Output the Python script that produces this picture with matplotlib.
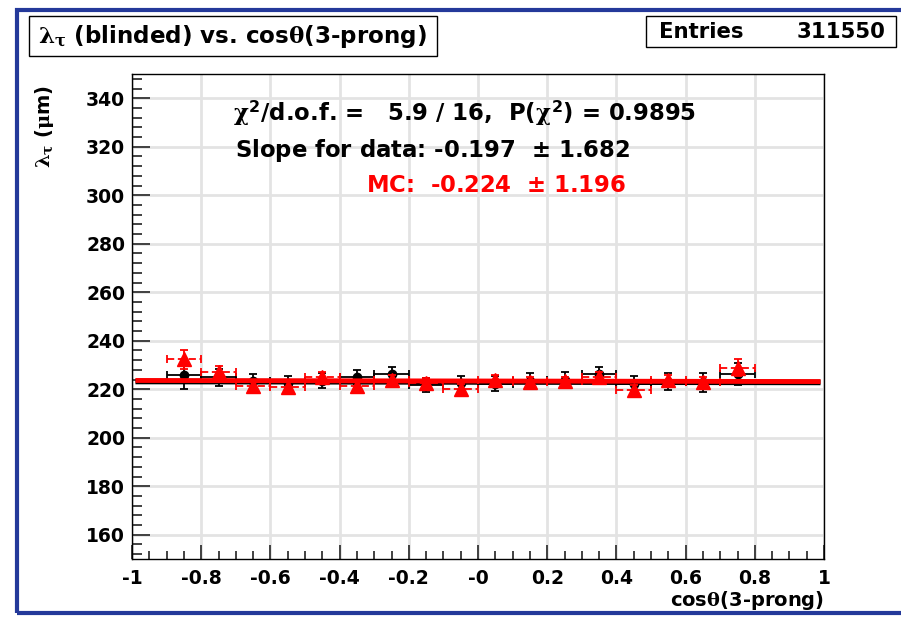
import numpy as np
import matplotlib
matplotlib.use('Agg')
import matplotlib.pyplot as plt
from matplotlib.patches import Rectangle
from matplotlib.ticker import MultipleLocator

# --------------------------------------------------------------------------- #
# Inputs
# --------------------------------------------------------------------------- #
# bin centres in cos(theta) of the 3-prong side
cosTheta = [-0.85, -0.75, -0.65, -0.55, -0.45, -0.35, -0.25, -0.15, -0.05,
            0.05, 0.15, 0.25, 0.35, 0.45, 0.55, 0.65, 0.75]
binHalfWidth = 0.05

# blinded decay length (um), data
lambdaData = [225.8, 225.0, 223.3, 222.5, 223.5, 225.0, 226.3, 221.8, 222.5,
              222.3, 223.5, 224.0, 226.3, 222.3, 223.0, 222.8, 226.3]
lambdaDataErr = [5.5, 3.5, 3.0, 3.0, 3.0, 3.0, 3.0, 3.0, 3.0,
                 3.0, 3.0, 3.0, 3.0, 3.0, 3.5, 4.0, 4.5]

# blinded decay length (um), MC
lambdaMC = [232.3, 227.2, 221.5, 221.0, 225.0, 221.5, 224.0, 222.5, 220.0,
            224.0, 223.0, 223.2, 225.0, 219.8, 224.0, 223.0, 228.8]
lambdaMCErr = [4.0, 2.5, 2.0, 2.0, 2.0, 2.0, 2.0, 2.0, 2.0,
               2.0, 2.0, 2.0, 2.0, 2.0, 2.0, 2.0, 3.5]

# straight line fits: [value at cos=0, slope]
fitData = [223.0, -0.197]
fitMC = [223.4, -0.224]
slopeDataErr = 1.682
slopeMCErr = 1.196
chi2 = 5.9
ndof = 16
probChi2 = 0.9895
entries = 311550


# --------------------------------------------------------------------------- #
# Main
# --------------------------------------------------------------------------- #
def main():

  plt.rcParams['font.family'] = ['DejaVu Sans']
  plt.rcParams['font.weight'] = 'bold'
  # upright serif greek, bold sans digits in math mode
  plt.rcParams['mathtext.fontset'] = 'custom'
  plt.rcParams['mathtext.rm'] = 'DejaVu Sans:bold'
  plt.rcParams['mathtext.bf'] = 'DejaVu Sans:bold'
  plt.rcParams['mathtext.it'] = 'DejaVu Serif'

  W, H = 901, 623
  fig = plt.figure(figsize=(W / 100.0, H / 100.0), dpi=100)

  # canvas frame
  fig.patches.append(Rectangle((17.0 / W, 10.0 / H), 1.2, 1 - 20.0 / H,
                               transform=fig.transFigure, fill=False,
                               edgecolor='#24399a', linewidth=3))

  ax = fig.add_axes([132.0 / W, 1 - 559.0 / H, 692.0 / W, 485.0 / H])
  ax.set_xlim(-1, 1)
  ax.set_ylim(150, 350)

  ax.xaxis.set_minor_locator(MultipleLocator(0.05))
  ax.yaxis.set_major_locator(MultipleLocator(20))
  ax.yaxis.set_minor_locator(MultipleLocator(4))
  ax.grid(True, which='major', color='#e3e3e3', linewidth=2)
  ax.set_axisbelow(True)

  ax.tick_params(axis='both', which='both', direction='in', top=False,
                 right=False, color='#333333', width=1.3, labelsize=13.5)
  ax.tick_params(axis='y', which='major', length=13, pad=5)
  ax.tick_params(axis='y', which='minor', length=7)
  ax.tick_params(axis='x', which='major', length=10, pad=7)
  ax.tick_params(axis='x', which='minor', length=6)
  xt = np.round(np.arange(-1, 1.01, 0.2), 1)
  ax.set_xticks(xt)
  ax.set_xticklabels(['{:g}'.format(v) if v != 0 else '-0' for v in xt])
  for s in ax.spines.values():
    s.set_linewidth(1.0)

  # data points and fit
  ax.errorbar(cosTheta, lambdaData, xerr=binHalfWidth, yerr=lambdaDataErr,
              fmt='o', color='black', markersize=6, elinewidth=1.3,
              capsize=3, capthick=1.3, zorder=3)
  xs = np.array([-0.99, 0.99])
  ax.plot(xs, fitData[0] + fitData[1] * xs, color='black', linewidth=4,
          solid_capstyle='butt', zorder=4)

  # MC points and fit
  ax.plot(xs, fitMC[0] + fitMC[1] * xs, color='red', linewidth=3.5,
          solid_capstyle='butt', zorder=5)
  eb = ax.errorbar(cosTheta, lambdaMC, xerr=binHalfWidth, yerr=lambdaMCErr,
                   fmt='^', color='red', markersize=10, elinewidth=1.3,
                   capsize=3, capthick=1.3, zorder=6)
  eb[2][0].set_linestyle((0, (4, 2)))

  # fit summary
  fs = 16.4
  fig.text(233.0 / W, 1 - 113.0 / H,
           r'$\chi^{2}$/d.o.f. =   ' + '{:.1f} / {:d},  P('.format(chi2, ndof)
           + r'$\chi^{2}$' + ') = {:.4f}'.format(probChi2),
           fontsize=fs, va='center', ha='left')
  fig.text(235.0 / W, 1 - 150.0 / H,
           'Slope for data: {:.3f}  '.format(fitData[1]) + r'$\pm$'
           + ' {:.3f}'.format(slopeDataErr),
           fontsize=fs, va='center', ha='left')
  fig.text(366.0 / W, 1 - 186.0 / H,
           'MC:  {:.3f}  '.format(fitMC[1]) + r'$\pm$'
           + ' {:.3f}'.format(slopeMCErr),
           fontsize=fs, color='red', va='center', ha='left')

  # axis titles
  fig.text(44.0 / W, 1 - 85.0 / H, r'$\lambda_{\tau}$ ($\mu$m)', rotation=90,
           fontsize=14, ha='center', va='top')
  fig.text(824.0 / W, 1 - 601.0 / H, r'cos$\theta$(3-prong)', fontsize=14,
           ha='right', va='center')

  # title box
  fig.patches.append(Rectangle((29.0 / W, 1 - 56.0 / H), 408.0 / W, 40.0 / H,
                               transform=fig.transFigure, fill=False,
                               edgecolor='black', linewidth=1))
  fig.text(38.0 / W, 1 - 36.0 / H,
           r'$\lambda_{\tau}$ (blinded) vs. cos$\theta$(3-prong)',
           fontsize=16.6, ha='left', va='center')

  # stats box
  fig.patches.append(Rectangle((646.0 / W, 1 - 47.0 / H), 250.0 / W, 31.0 / H,
                               transform=fig.transFigure, fill=False,
                               edgecolor='black', linewidth=1))
  fig.text(659.0 / W, 1 - 32.0 / H, 'Entries', fontsize=15.3,
           ha='left', va='center')
  fig.text(885.0 / W, 1 - 32.0 / H, '{:d}'.format(entries), fontsize=15.3,
           ha='right', va='center')

  fig.savefig('out.png', dpi=100)


# --------------------------------------------------------------------------- #
# Execute
# --------------------------------------------------------------------------- #
if __name__ == '__main__':
  main()
